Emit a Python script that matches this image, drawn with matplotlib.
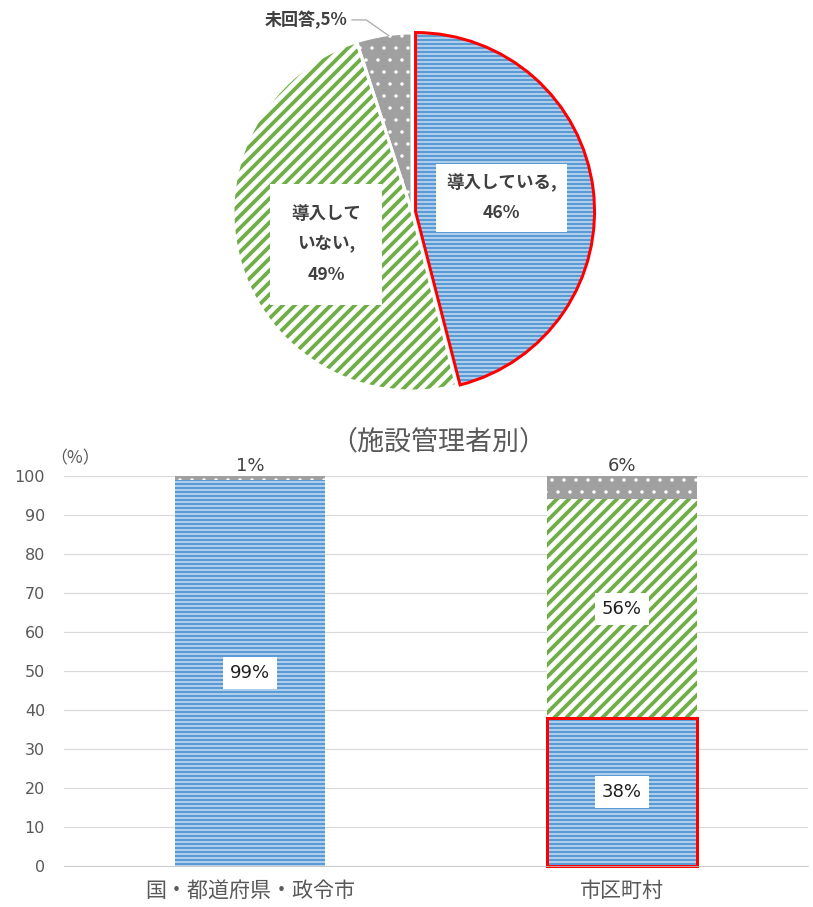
import matplotlib
matplotlib.use("Agg")
import matplotlib.pyplot as plt
from matplotlib.patches import Wedge, Rectangle

plt.rcParams['font.family'] = ['Noto Sans CJK JP', 'DejaVu Sans']

# ---- data ----
pie_labels = ["導入している,\n46%", "導入して\nいない,\n49%", "未回答,5%"]
pie_values = [46, 49, 5]

bar_categories = ["国・都道府県・政令市", "市区町村"]
introduced = [99, 38]
not_introduced = [0, 56]
no_answer = [1, 6]
y_ticks = [0, 10, 20, 30, 40, 50, 60, 70, 80, 90, 100]
bar_title = "（施設管理者別）"

BLUE = "#5B9BD5"
GREEN = "#70AD47"
GRAY = "#A0A0A0"
TXT = "#404040"
TICK = "#595959"

W, H = 813, 907
DPI = 72
fig = plt.figure(figsize=(W / DPI, H / DPI), dpi=DPI)

def set_hlw(p, lw):
    try:
        p.set_hatch_linewidth(lw)
    except Exception:
        pass

# ---- pie ----
cx, cy, R = 412, 212, 179
lim = 1.15
ax_p = fig.add_axes([(cx - lim * R) / W, 1 - (cy + lim * R) / H, 2 * lim * R / W, 2 * lim * R / H])
wedges, _ = ax_p.pie(pie_values, startangle=90, counterclock=False, radius=1,
                     explode=[0.02, 0, 0],
                     colors=[BLUE, "white", GRAY],
                     wedgeprops=dict(linewidth=0))
ax_p.set_xlim(-lim, lim)
ax_p.set_ylim(-lim, lim)
ax_p.set_aspect('equal')
ax_p.axis('off')

wedges[0].set_edgecolor("white"); wedges[0].set_hatch('---'); set_hlw(wedges[0], 1.0)
wedges[1].set_edgecolor(GREEN); wedges[1].set_hatch('//'); set_hlw(wedges[1], 3.8)
wedges[2].set_edgecolor("white"); wedges[2].set_hatch('.'); set_hlw(wedges[2], 1.0)
for w in wedges:
    w.set_linewidth(0)
for w in wedges[1:]:
    ax_p.add_patch(Wedge(w.center, w.r, w.theta1, w.theta2, fill=False,
                         edgecolor="white", linewidth=3))
w0 = wedges[0]
ax_p.add_patch(Wedge(w0.center, w0.r, w0.theta1, w0.theta2, fill=False,
                     edgecolor="#FF0000", linewidth=3, joinstyle='miter'))

ax_p.text(0.50, 0.078, pie_labels[0], ha='center', va='center', fontsize=17.5,
          fontweight='bold', color=TXT, linespacing=1.85,
          bbox=dict(facecolor="white", edgecolor="none", pad=10))
ax_p.text(-0.48, -0.18, pie_labels[1], ha='center', va='center', fontsize=17.5,
          fontweight='bold', color=TXT, linespacing=1.9,
          bbox=dict(facecolor="white", edgecolor="none", pad=21))
ax_p.annotate(pie_labels[2], xy=(-0.13, 0.985), xytext=(-0.59, 1.073),
              ha='center', va='center', fontsize=17, fontweight='bold', color=TXT,
              arrowprops=dict(arrowstyle='-', color="#A6A6A6", lw=1.2,
                              shrinkA=2, shrinkB=0,
                              connectionstyle="angle,angleA=0,angleB=145,rad=0"),
              annotation_clip=False)

# ---- bar chart ----
left_px, right_px, top_px, bot_px = 64, 808, 476, 866
ax = fig.add_axes([left_px / W, 1 - bot_px / H, (right_px - left_px) / W, (bot_px - top_px) / H])
x = list(range(len(bar_categories)))
bw = 0.403
b1 = ax.bar(x, introduced, width=bw, color=BLUE, edgecolor="white", hatch='---', linewidth=0, zorder=3)
b2 = ax.bar(x, not_introduced, width=bw, bottom=introduced, color="white", edgecolor=GREEN,
            hatch='//', linewidth=0, zorder=3)
bottoms3 = [a + b for a, b in zip(introduced, not_introduced)]
b3 = ax.bar(x, no_answer, width=bw, bottom=bottoms3, color=GRAY, edgecolor="white",
            hatch='.', linewidth=0, zorder=3)
for p in b1: set_hlw(p, 1.0)
for p in b2: set_hlw(p, 3.8)
for p in b3: set_hlw(p, 1.0)

r = b1[1]
ax.add_patch(Rectangle((r.get_x(), r.get_y()), r.get_width(), r.get_height(), fill=False,
                       edgecolor="#FF0000", linewidth=3, zorder=4, clip_on=False))

ax.set_xlim(-0.5, 1.5)
ax.set_ylim(0, 100)
ax.set_yticks(y_ticks)
ax.set_yticklabels([str(t) for t in y_ticks], family=['DejaVu Sans'], fontsize=16, color=TICK)
ax.tick_params(axis='y', length=0, pad=19)
ax.set_xticks(x)
ax.set_xticklabels(bar_categories, fontsize=21, color=TICK)
ax.tick_params(axis='x', length=0, pad=14)
ax.grid(axis='y', color="#D9D9D9", linewidth=1.2, zorder=0)
for s in ['top', 'right', 'left']:
    ax.spines[s].set_visible(False)
ax.spines['bottom'].set_color("#BFBFBF")
ax.spines['bottom'].set_zorder(5)

lbox = dict(facecolor="white", edgecolor="none", pad=7)
for i in x:
    if introduced[i] > 0:
        ax.text(i, introduced[i] / 2, f"{introduced[i]}%", ha='center', va='center',
                fontsize=18, family=['DejaVu Sans'], color="#202020", bbox=lbox, zorder=6)
    if not_introduced[i] > 0:
        ax.text(i, introduced[i] + not_introduced[i] / 2, f"{not_introduced[i]}%", ha='center',
                va='center', fontsize=18, family=['DejaVu Sans'], color="#202020", bbox=lbox, zorder=6)
    ax.text(i, 102.6, f"{no_answer[i]}%", ha='center', va='center', fontsize=18,
            family=['DejaVu Sans'], color="#404040", zorder=6, clip_on=False)

fig.text(438 / W, 1 - 442 / H, bar_title, ha='center', va='center', fontsize=27, color=TICK)
fig.text(75 / W, 1 - 458 / H, "（%）", ha='center', va='center', fontsize=17, color=TICK)

fig.savefig("out.png", dpi=DPI, facecolor="white")
